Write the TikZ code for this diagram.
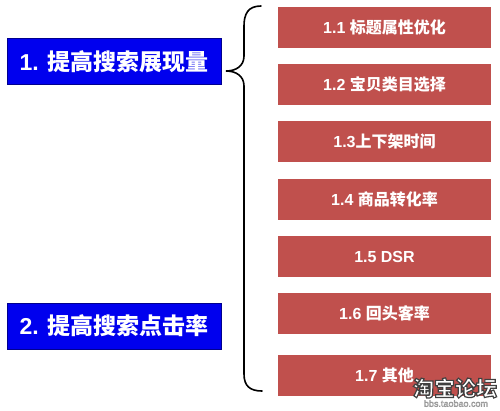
\documentclass[tikz,border=0pt]{standalone}
\usepackage{fontspec}
\setmainfont{Liberation Sans}
\newfontfamily\cjk{Noto Sans CJK SC}
\definecolor{boxblue}{RGB}{0,0,238}
\definecolor{boxred}{RGB}{192,80,77}
\newcommand{\outlinetext}[2]{\special{pdf:literal #1 G #2 w 2 Tr}}
\newcommand{\plaintext}{\special{pdf:literal 0 Tr}}
\begin{document}
\begin{tikzpicture}[x=1pt,y=-1pt,
  bluebox/.style={fill=boxblue, draw=boxblue!60!black, line width=0.8pt, text=white,
    font=\bfseries\fontsize{23}{23}\selectfont, inner sep=0pt, minimum width=214pt, minimum height=46pt},
  redbox/.style={fill=boxred, draw=none, text=white,
    font=\bfseries\fontsize{16}{16}\selectfont, inner sep=0pt, minimum width=213pt, minimum height=41pt},
  bracestyle/.style={draw=black, line width=1.6pt, line cap=round},
  wmark/.style={font=\cjk\bfseries\fontsize{21}{21}\selectfont, inner sep=0pt, text=white},
  wsmall/.style={font=\fontsize{9}{9}\selectfont, inner sep=0pt, text=white}]
\useasboundingbox (0,0) rectangle (500,410);
\fill[white] (0,0) rectangle (500,410);

\node[bluebox] (b1) at (114,61.5) {1. {\cjk\bfseries 提高搜索展现量}};
\node[bluebox] (b2) at (114,326) {2. {\cjk\bfseries 提高搜索点击率}};

\node[redbox] (r1) at (384.5,27.5) {1.1 {\cjk\bfseries 标题属性优化}};
\node[redbox] (r2) at (384.5,84.5) {1.2 {\cjk\bfseries 宝贝类目选择}};
\node[redbox] (r3) at (384.5,141.5) {1.3{\cjk\bfseries 上下架时间}};
\node[redbox] (r4) at (384.5,199.5) {1.4 {\cjk\bfseries 商品转化率}};
\node[redbox] (r5) at (384.5,256.5) {1.5 DSR};
\node[redbox] (r6) at (384.5,313.5) {1.6 {\cjk\bfseries 回头客率}};
\node[redbox] (r7) at (384.5,375.5) {1.7 {\cjk\bfseries 其他}};

% brace
\coordinate (btop) at (261,6);
\coordinate (btip) at (226,71);
\coordinate (bbot) at (262,391);
\draw[bracestyle] (btop) .. controls (248,6) and (244,14) .. (244,26)
  -- (244,56) .. controls (244,66) and (236,71) .. (btip)
  .. controls (236,71) and (244,76) .. (244,86)
  -- (244,374) .. controls (244,386) and (250,391) .. (bbot);

% watermark
\node[wmark] (wm) at (455,388) {\outlinetext{0.25}{1.2}淘宝论坛\plaintext};
\node[wsmall] (ws) at (456,403.5) {\outlinetext{0.6}{0.4}bbs.taobao.com\plaintext};
\end{tikzpicture}
\end{document}
